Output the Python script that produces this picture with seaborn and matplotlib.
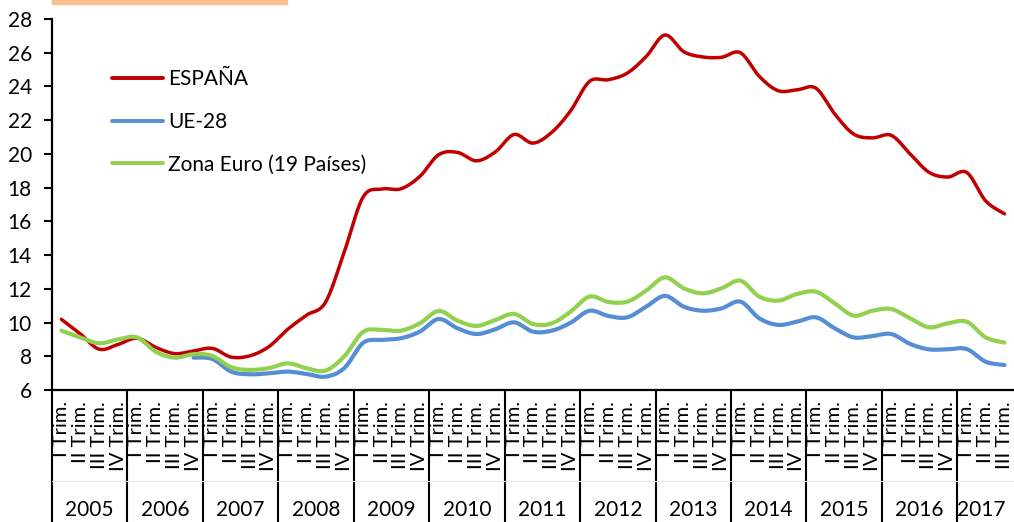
import numpy as np
import pandas as pd
import matplotlib
matplotlib.use("Agg")
import matplotlib.pyplot as plt
import matplotlib.transforms as mtransforms
from matplotlib.patches import Rectangle
import seaborn as sns

# ---------------- data ----------------
years = ["2005", "2006", "2007", "2008", "2009", "2010", "2011",
         "2012", "2013", "2014", "2015", "2016", "2017"]
quarters = ["I Trim.", "II Trim.", "III Trim.", "IV Trim."]
n_quarters_last = 3

espana = [10.19, 9.33, 8.42, 8.70, 9.07, 8.53, 8.16, 8.31, 8.47, 7.95, 8.03, 8.57,
          9.60, 10.44, 11.20, 14.20, 17.45, 17.92, 17.93, 18.66, 19.95, 20.09, 19.59, 20.11,
          21.15, 20.64, 21.28, 22.56, 24.30, 24.40, 24.79, 25.77, 27.05, 26.06, 25.75, 25.73,
          26.00, 24.60, 23.75, 23.80, 23.90, 22.37, 21.18, 20.95, 21.10, 20.00, 18.91, 18.63,
          18.90, 17.22, 16.45]
ue28 = [np.nan] * 7 + [7.92, 7.84, 7.09, 6.93, 6.99, 7.09, 6.95, 6.79, 7.30,
                       8.80, 8.97, 9.07, 9.46, 10.21, 9.66, 9.32, 9.60, 10.01, 9.46, 9.52,
                       9.99, 10.70, 10.39, 10.31, 10.94, 11.58, 10.94, 10.70, 10.84, 11.24,
                       10.25, 9.86, 10.05, 10.31, 9.66, 9.12, 9.20, 9.32, 8.73, 8.41,
                       8.41, 8.43, 7.68, 7.48]
zona_euro = [9.52, 9.12, 8.77, 9.00, 9.12, 8.27, 7.92, 8.12, 8.02, 7.35, 7.19, 7.30,
             7.58, 7.29, 7.15, 8.00, 9.45, 9.56, 9.52, 9.95, 10.69, 10.11, 9.80, 10.15,
             10.51, 9.91, 9.95, 10.65, 11.54, 11.22, 11.24, 11.89, 12.68, 12.03, 11.73, 12.03,
             12.48, 11.54, 11.30, 11.69, 11.83, 11.14, 10.41, 10.70, 10.80, 10.25, 9.72, 9.95,
             10.05, 9.12, 8.81]
series_names = ["ESPAÑA", "UE-28", "Zona Euro (19 Países)"]
colors = ["#C00000", "#558ED5", "#92D050"]

# ---------------- helpers ----------------
def smooth(y, n=16):
    """Catmull-Rom curve through the points (Excel-style smoothed line)."""
    y = np.asarray(y, dtype=float)
    x = np.arange(len(y), dtype=float)
    xs, ys = [], []
    idx = np.where(~np.isnan(y))[0]
    runs = np.split(idx, np.where(np.diff(idx) != 1)[0] + 1)
    for r in runs:
        px, py = x[r], y[r]
        m = len(px)
        for i in range(m - 1):
            p0 = (px[i - 1], py[i - 1]) if i > 0 else (px[i], py[i])
            p1 = (px[i], py[i])
            p2 = (px[i + 1], py[i + 1])
            p3 = (px[i + 2], py[i + 2]) if i + 2 < m else (px[i + 1], py[i + 1])
            t = np.linspace(0, 1, n, endpoint=(i == m - 2))
            c1 = (p1[0] + (p2[0] - p0[0]) / 6, p1[1] + (p2[1] - p0[1]) / 6)
            c2 = (p2[0] - (p3[0] - p1[0]) / 6, p2[1] - (p3[1] - p1[1]) / 6)
            bx = ((1 - t) ** 3 * p1[0] + 3 * (1 - t) ** 2 * t * c1[0]
                  + 3 * (1 - t) * t ** 2 * c2[0] + t ** 3 * p2[0])
            by = ((1 - t) ** 3 * p1[1] + 3 * (1 - t) ** 2 * t * c1[1]
                  + 3 * (1 - t) * t ** 2 * c2[1] + t ** 3 * p2[1])
            xs.append(bx)
            ys.append(by)
    return np.concatenate(xs), np.concatenate(ys)

# ---------------- figure ----------------
sns.set_theme(style="white")
plt.rcParams["font.family"] = ["Lato", "DejaVu Sans"]
FS = 15
FSQ = 14.5

W, H = 1014, 522
fig = plt.figure(figsize=(W / 100, H / 100), dpi=100)
n_total = 4 * (len(years) - 1) + n_quarters_last
q_w = 18.86
left_px, top_px, bottom_px = 52, 19, 390
ax = fig.add_axes([left_px / W, 1 - bottom_px / H, n_total * q_w / W, (bottom_px - top_px) / H])

rows = []
for name, vals in zip(series_names, [espana, ue28, zona_euro]):
    sx, sy = smooth(vals)
    rows.append(pd.DataFrame({"x": sx, "y": sy, "serie": name}))
df = pd.concat(rows, ignore_index=True)

widths = {"ESPAÑA": 2.5, "UE-28": 3.0, "Zona Euro (19 Países)": 3.0}
for name, col in zip(series_names, colors):
    sub = df[df["serie"] == name]
    sns.lineplot(data=sub, x="x", y="y", ax=ax, color=col, lw=widths[name],
                 sort=False, estimator=None, label=name, solid_capstyle="round")

ax.set_xlim(-0.5, n_total - 0.5)
ax.set_ylim(6, 28)
ax.set_yticks(np.arange(6, 29, 2))
ax.set_xlabel("")
ax.set_ylabel("")

for s in ["top", "right"]:
    ax.spines[s].set_visible(False)
for s in ["left", "bottom"]:
    ax.spines[s].set_color("black")
    ax.spines[s].set_linewidth(1.6)

ax.tick_params(axis="y", which="major", direction="out", length=5.5, width=1.5,
               color="black", pad=9, labelsize=FS, labelcolor="black", left=True)

# quarter labels
qlabels = [quarters[i % 4] for i in range(n_total)]
ax.set_xticks(np.arange(n_total))
ax.set_xticklabels(qlabels, rotation=90, fontsize=FSQ, color="black")
ax.tick_params(axis="x", length=0, pad=8)

# year separators and labels
trans = mtransforms.blended_transform_factory(ax.transData, ax.transAxes)
ah = bottom_px - top_px
sep_bottom = -(H - bottom_px) / ah - 0.01
for k in range(len(years)):
    xb = -0.5 + 4 * k
    ax.plot([xb, xb], [0, sep_bottom], transform=trans, color="black", lw=1.5,
            clip_on=False, solid_capstyle="butt")
    nq = 4 if k < len(years) - 1 else n_quarters_last
    xc = xb + nq / 2.0
    if k == len(years) - 1:
        xc -= 0.25
    ax.text(xc, -(510 - bottom_px) / ah, years[k], transform=trans,
            ha="center", va="center", fontsize=FS, color="black")
# faint divider between label rows
ax.plot([-0.5, n_total - 0.5], [-(481 - bottom_px) / ah] * 2,
        transform=trans, color="#e6e6e6", lw=0.8, clip_on=False)

# legend
leg = ax.legend(loc="upper left", bbox_to_anchor=(0.0622, 0.864), frameon=False,
                fontsize=FS, handlelength=2.45, handletextpad=0.26, labelspacing=1.08,
                borderpad=0, borderaxespad=0)
for line in leg.get_lines():
    line.set_linewidth(2.8)
for t in leg.get_texts():
    t.set_color("black")

# orange strip at the top
fig.patches.append(Rectangle((left_px / W, 1 - 4 / H), 235 / W, 4 / H,
                             transform=fig.transFigure, color="#FAC08F", zorder=5))

fig.savefig("out.png", dpi=100)
